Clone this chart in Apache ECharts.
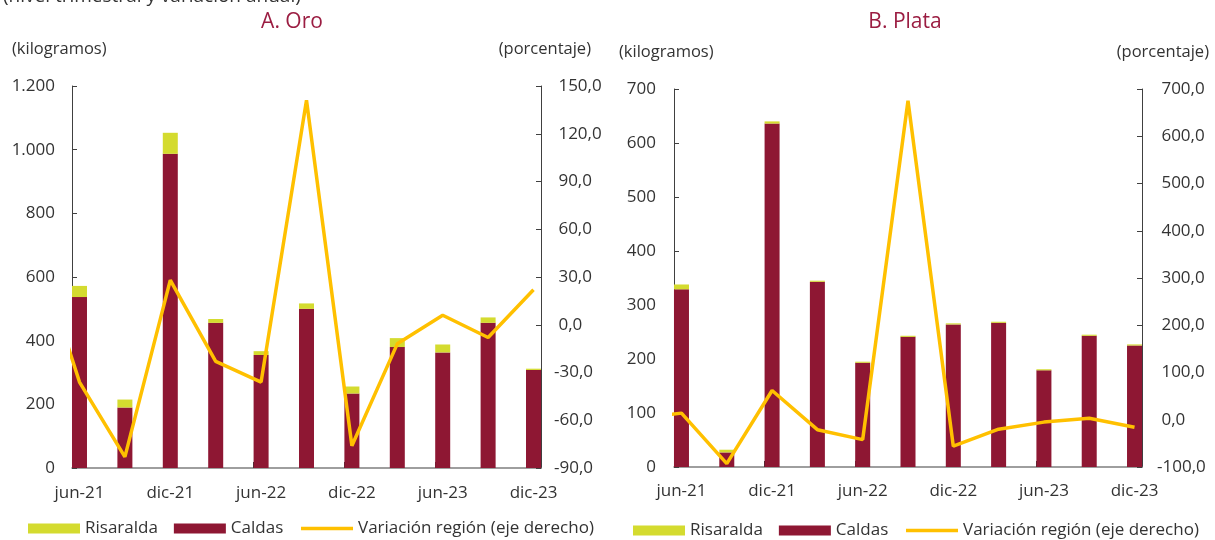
<!DOCTYPE html>
<html>
<head>
<meta charset="utf-8">
<script src="https://cdn.jsdelivr.net/npm/echarts@6/dist/echarts.min.js"></script>
<style>
html,body{margin:0;padding:0;background:#fff;}
#c{width:1215px;height:540px;}
</style>
</head>
<body>
<div id="c"></div>
<script>
// ---- Data ----
const quarters = ['mar-21','jun-21','sep-21','dic-21','mar-22','jun-22','sep-22','dic-22','mar-23','jun-23','sep-23','dic-23'];
const labelQuarters = ['jun-21','dic-21','jun-22','dic-22','jun-23','dic-23'];

// A. Oro (kilogramos); mar-21 only used by the line
const oroCaldas    = [null, 537, 190, 987, 456, 355, 500, 234, 380, 363, 456, 308];
const oroRisaralda = [null,  35,  25,  66,  12,  12,  17,  22,  28,  25,  17,   4];
const oroVariacion = [  53, -36, -83,  28, -23, -36, 141, -76, -12,   6,  -8,  22];

// B. Plata (kilogramos)
const plataCaldas    = [null, 329, 27, 636, 343, 193, 241, 264, 267, 179, 243, 225];
const plataRisaralda = [null,   9,  5,   4,   2,   2,   2,   2,   2,   2,   2,   2];
const plataVariacion = [   2,  14, -93,  62, -21, -42, 675, -56, -20,  -5,   3, -16];

const oroLeftTicks   = {min: 0, max: 1200, interval: 200};
const oroRightTicks  = {min: -90, max: 150, interval: 30};
const plataLeftTicks = {min: 0, max: 700, interval: 100};
const plataRightTicks= {min: -100, max: 700, interval: 100};

// ---- Helpers ----
const HALF = 0.165; // half bar width in quarter units
const FONT = 'Open Sans';
const TXT = '#333333';
const C_CALDAS = '#8E1733';
const C_RIS = '#D4DB2F';
const C_LINE = '#FFC000';
const C_TITLE = '#9B1D42';
const LINE_NAME = 'Variación región (eje derecho)';

function xPos(i){ return i - 1; }
// value first so that stacking is done on the value dimension
function barData(arr){
  const out = [];
  arr.forEach((v,i)=>{ if (v !== null) out.push([v, xPos(i)]); });
  return out;
}
function lineData(arr){ return arr.map((v,i)=>[xPos(i), v]); }
const lastX = quarters.length - 2;
const labelVals = labelQuarters.map(q => xPos(quarters.indexOf(q)));
const tickVals = labelVals.map(v => v - HALF);

function fmtThousands(v){ return String(v).replace(/\B(?=(\d{3})+(?!\d))/g, '.'); }
function fmtPct(v){ const s = Math.abs(v).toFixed(1).replace('.', ','); return v < 0 ? '-' + s : ' ' + s; }

function makeX(gridIndex, labelMargin){
  return {
    type: 'value', gridIndex, min: -HALF, max: lastX + HALF,
    axisLine: {show: true, onZero: false, lineStyle: {color: '#7f7f7f', width: 1.5}},
    axisTick: {show: true, inside: true, length: 6, customValues: tickVals, lineStyle: {color: '#333'}},
    axisLabel: {show: true, customValues: labelVals, margin: labelMargin,
      formatter: v => quarters[Math.round(v) + 1] || '',
      color: TXT, fontFamily: FONT, fontSize: 17},
    splitLine: {show: false}
  };
}
function makeY(gridIndex, pos, t, fmt, margin){
  return {
    type: 'value', gridIndex, position: pos, min: t.min, max: t.max, interval: t.interval,
    axisLine: {show: true, onZero: false, lineStyle: {color: '#404040', width: 1}},
    axisTick: {show: true, inside: true, length: 5, lineStyle: {color: '#404040'}},
    axisLabel: {color: TXT, fontFamily: FONT, fontSize: 17, margin, formatter: fmt},
    splitLine: {show: false}
  };
}
function legend(left, top){
  return {
    left, top, padding: 0, itemWidth: 52, itemHeight: 10, itemGap: 16,
    textStyle: {color: TXT, fontFamily: FONT, fontSize: 17},
    data: [
      {name: 'Risaralda', icon: 'rect'},
      {name: 'Caldas', icon: 'rect'},
      {name: LINE_NAME, itemStyle: {opacity: 0}, lineStyle: {width: 3.5, color: C_LINE}}
    ]
  };
}
function barSeries(name, gx, gy, stack, color, arr){
  return {name, type: 'bar', xAxisIndex: gx, yAxisIndex: gy, stack, barWidth: 15,
    encode: {x: 1, y: 0}, itemStyle: {color}, data: barData(arr)};
}
function lineSeries(gx, gy, arr){
  return {name: LINE_NAME, type: 'line', xAxisIndex: gx, yAxisIndex: gy, symbol: 'none',
    lineStyle: {color: C_LINE, width: 3.5}, itemStyle: {color: C_LINE}, data: lineData(arr)};
}

const chart = echarts.init(document.getElementById('c'));
chart.setOption({
  animation: false,
  backgroundColor: '#fff',
  grid: [
    {left: 72, top: 86, width: 469, height: 382},
    {left: 674, top: 89, width: 468, height: 378}
  ],
  xAxis: [makeX(0, 17), makeX(1, 16)],
  yAxis: [
    makeY(0, 'left', oroLeftTicks, fmtThousands, 17),
    makeY(0, 'right', oroRightTicks, fmtPct, 13),
    makeY(1, 'left', plataLeftTicks, v => String(v), 18),
    makeY(1, 'right', plataRightTicks, fmtPct, 15)
  ],
  legend: [legend(28, 520), legend(633, 522)],
  graphic: [
    {type: 'text', x: 3, y: 6, style: {text: '(nivel trimestral y variación anual)', fill: TXT, font: '19px "Open Sans"', textVerticalAlign: 'bottom'}},
    {type: 'text', x: 292, y: 22, style: {text: 'A. Oro', fill: C_TITLE, font: '21px "Open Sans"', textAlign: 'center', textVerticalAlign: 'middle'}},
    {type: 'text', x: 905, y: 22, style: {text: 'B. Plata', fill: C_TITLE, font: '21px "Open Sans"', textAlign: 'center', textVerticalAlign: 'middle'}},
    {type: 'text', x: 12, y: 49, style: {text: '(kilogramos)', fill: TXT, font: '16.5px "Open Sans"', textVerticalAlign: 'middle'}},
    {type: 'text', x: 591, y: 49, style: {text: '(porcentaje)', fill: TXT, font: '16.5px "Open Sans"', textAlign: 'right', textVerticalAlign: 'middle'}},
    {type: 'text', x: 619, y: 52, style: {text: '(kilogramos)', fill: TXT, font: '16.5px "Open Sans"', textVerticalAlign: 'middle'}},
    {type: 'text', x: 1209, y: 52, style: {text: '(porcentaje)', fill: TXT, font: '16.5px "Open Sans"', textAlign: 'right', textVerticalAlign: 'middle'}}
  ],
  series: [
    barSeries('Caldas', 0, 0, 'oro', C_CALDAS, oroCaldas),
    barSeries('Risaralda', 0, 0, 'oro', C_RIS, oroRisaralda),
    lineSeries(0, 1, oroVariacion),
    barSeries('Caldas', 1, 2, 'plata', C_CALDAS, plataCaldas),
    barSeries('Risaralda', 1, 2, 'plata', C_RIS, plataRisaralda),
    lineSeries(1, 3, plataVariacion)
  ]
});
</script>
</body>
</html>
